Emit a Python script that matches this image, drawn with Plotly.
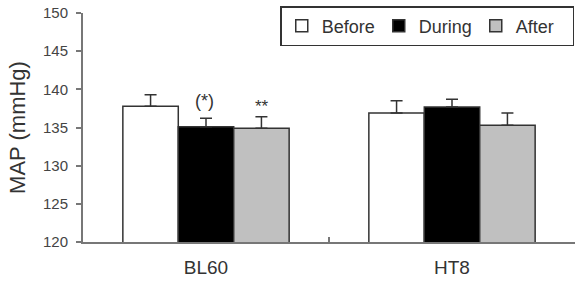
import plotly.graph_objects as go

categories = ["BL60", "HT8"]
series_names = ["Before", "During", "After"]
before = [137.8, 136.9]
during = [135.1, 137.7]
after = [134.9, 135.3]
before_err = [1.5, 1.6]
during_err = [1.1, 1.0]
after_err = [1.5, 1.6]
y_ticks = [120, 125, 130, 135, 140, 145, 150]
sig_labels = ["(*)", "**"]  # BL60 During, BL60 After

colors = ["#ffffff", "#000000", "#c0c0c0"]
values = [before, during, after]
errors = [before_err, during_err, after_err]

fig = go.Figure()
for name, vals, errs, col in zip(series_names, values, errors, colors):
    fig.add_trace(go.Bar(
        name=name, x=categories, y=vals,
        marker=dict(color=col, line=dict(color="#333333", width=1.5)),
        error_y=dict(type="data", array=errs, arrayminus=[0] * len(errs),
                     symmetric=False, color="#333333", thickness=1.5, width=6),
    ))

bar_px = 55.5
fig.add_annotation(x=categories[0], y=during[0] + during_err[0], xref="x", yref="y",
                   text=sig_labels[0], showarrow=False, yanchor="bottom", yshift=5,
                   xshift=-2, font=dict(size=18, color="#333333"))
fig.add_annotation(x=categories[0], y=after[0] + after_err[0], xref="x", yref="y",
                   text=sig_labels[1], showarrow=False, yanchor="bottom", yshift=-1,
                   xshift=bar_px, font=dict(size=17, color="#333333"))

fig.update_layout(
    width=581, height=281,
    margin=dict(l=83, r=6, t=13, b=39),
    paper_bgcolor="white", plot_bgcolor="white",
    barmode="group", bargap=0.324, bargroupgap=0,
    font=dict(family="Liberation Sans, Arial, sans-serif", color="#333333"),
    showlegend=True,
    legend=dict(orientation="h", x=0.9985, xanchor="right", y=1.03, yanchor="top",
                bordercolor="#333333", borderwidth=1.5, bgcolor="white",
                font=dict(size=18, color="#333333"), itemwidth=30,
                entrywidth=52, entrywidthmode="pixels",
                traceorder="normal"),
    xaxis=dict(range=[-0.5, 1.5], showline=True, linecolor="#777777", linewidth=2,
               ticks="inside", tickson="boundaries", ticklen=5, tickcolor="#777777",
               tickwidth=1.5, tickfont=dict(size=19, color="#333333"),
               ticklabelstandoff=7, showgrid=False, zeroline=False, automargin=False),
    yaxis=dict(range=[120, 150], tickvals=y_ticks, showline=True, linecolor="#777777",
               linewidth=2, ticks="outside", ticklen=5, tickcolor="#777777", tickwidth=1.5,
               tickfont=dict(size=15, color="#444444"), showgrid=False, zeroline=False,
               ticklabelstandoff=5, automargin=False,
               title=dict(text="MAP (mmHg)", font=dict(size=22, color="#333333"), standoff=11)),
)

fig.write_html("out.html")
